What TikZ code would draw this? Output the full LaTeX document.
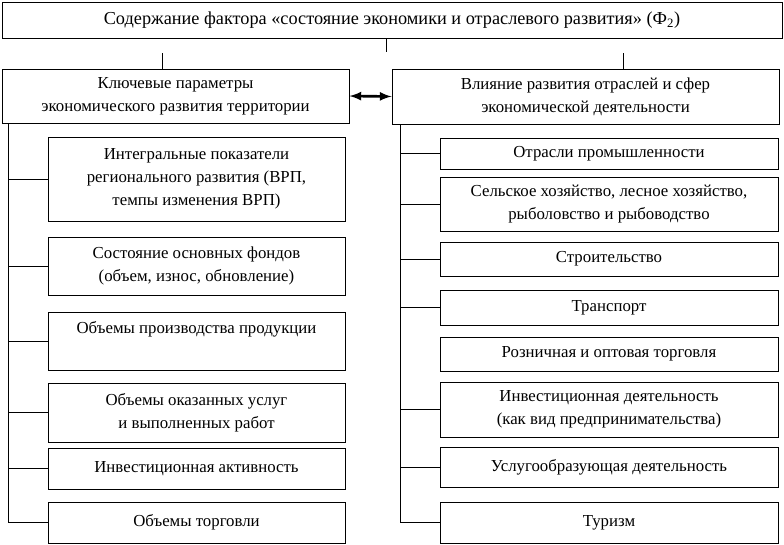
\documentclass[tikz,border=0pt]{standalone}
\usepackage{fontspec}
\setmainfont{Liberation Serif}
\usetikzlibrary{arrows}

\begin{document}
\begin{tikzpicture}[
  x=0.75pt, y=-0.75pt,
  every node/.style={align=center,font=\fontsize{12.6}{17.25}\selectfont,inner sep=2pt},
  box/.style={draw,line width=0.7pt},
  lbox/.style={box,minimum width=222.75pt},
  rbox/.style={box,minimum width=253.5pt},
  link/.style={draw,line width=0.7pt}
]
\useasboundingbox (0,0) rectangle (784,544);

% top and headers
\node[box,minimum width=585pt,minimum height=27pt,font=\fontsize{13.7}{17}\selectfont] (top) at (392,20)
  {Содержание фактора «состояние экономики и отраслевого развития» (Ф\textsubscript{2})};
\node[box,minimum width=260.25pt,minimum height=40.5pt] (lh) at (175.5,96)
  {Ключевые параметры\\экономического развития территории};
\node[box,minimum width=290.25pt,minimum height=41.25pt] (rh) at (585.5,96.5)
  {Влияние развития отраслей и сфер\\экономической деятельности};

\coordinate (ts) at (386,52);
\coordinate (ls) at (162,53);
\coordinate (rs) at (623,53);
\draw[link] (top.south -| ts) -- (ts);
\draw[link] (lh.north -| ls) -- (ls);
\draw[link] (rh.north -| rs) -- (rs);
\draw[latex-latex,line width=2pt] (lh.east) -- (rh.west);

% left column
\node[lbox,minimum height=63pt] (L1) at (196.5,179)
  {Интегральные показатели\\регионального развития (ВРП,\\темпы изменения ВРП)};
\node[lbox,minimum height=43.5pt] (L2) at (196.5,266)
  {Состояние основных фондов\\(объем, износ, обновление)};
\node[lbox,minimum height=43.5pt,text depth=20pt] (L3) at (196.5,341)
  {Объемы производства продукции};
\node[lbox,minimum height=44.25pt] (L4) at (196.5,412.5)
  {Объемы оказанных услуг\\и выполненных работ};
\node[lbox,minimum height=30.75pt] (L5) at (196.5,468.5)
  {Инвестиционная активность};
\node[lbox,minimum height=30.75pt] (L6) at (196.5,522.5)
  {Объемы торговли};

\coordinate (lt) at (8,123);
\draw[link] (lt) |- (L6.west);
\foreach \b in {L1,L2,L3,L4,L5}
  \draw[link] (\b.west) -- (\b.west -| lt);

% right column
\node[rbox,minimum height=23.25pt] (R1) at (609,153.5)
  {Отрасли промышленности};
\node[rbox,minimum height=40.5pt] (R2) at (609,204)
  {Сельское хозяйство, лесное хозяйство,\\рыболовство и рыбоводство};
\node[rbox,minimum height=25.5pt] (R3) at (609,259)
  {Строительство};
\node[rbox,minimum height=26.25pt] (R4) at (609,307.5)
  {Транспорт};
\node[rbox,minimum height=25.5pt] (R5) at (609,354)
  {Розничная и оптовая торговля};
\node[rbox,minimum height=41.25pt] (R6) at (609,409.5)
  {Инвестиционная деятельность\\(как вид предпринимательства)};
\node[rbox,minimum height=30pt] (R7) at (609,467)
  {Услугообразующая деятельность};
\node[rbox,minimum height=30.75pt] (R8) at (609,522.5)
  {Туризм};

\coordinate (rt) at (400,124);
\draw[link] (rt) |- (R8.west);
\foreach \b in {R1,R2,R3,R4,R6,R7}
  \draw[link] (\b.west) -- (\b.west -| rt);
\end{tikzpicture}
\end{document}
